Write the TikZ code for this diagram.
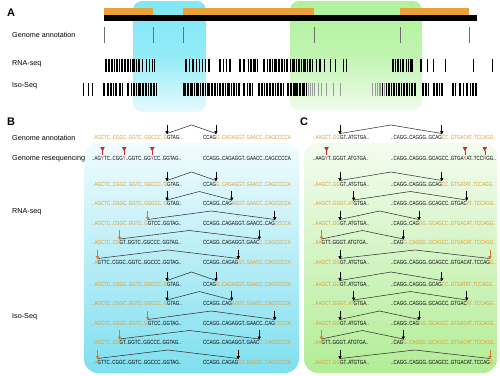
\documentclass[tikz,border=0pt]{standalone}
\usepackage{fontspec}
\setmainfont{Liberation Sans}
\newfontfamily\seqf[FakeStretch=0.75]{Liberation Sans}
\usetikzlibrary{calc,arrows.meta}
\definecolor{orng}{HTML}{E9A13A}
\definecolor{extxt}{HTML}{E39B2C}
\definecolor{redc}{HTML}{C4302B}
\definecolor{oarrc}{HTML}{E27428}
\definecolor{cyA}{HTML}{80E8F6}
\definecolor{cyAb}{HTML}{E6FAFD}
\definecolor{grA}{HTML}{B0F29C}
\definecolor{grAb}{HTML}{F0FCEC}
\definecolor{cyT}{HTML}{F2FCFE}
\definecolor{cyB}{HTML}{7EDFEF}
\definecolor{grT}{HTML}{F4FCF0}
\definecolor{grB}{HTML}{B2ED96}
\definecolor{tickc}{HTML}{6E6E6E}
\definecolor{lgray}{HTML}{9A9A9A}

\newcommand{\jrow}[8]{%
  \node[seq] (#1a) at (\xL,#2) {\color{extxt}#3};
  \node[seq] (#1b) at (#1a.base east) {#4};
  \node[seq] (#1c) at (\xR,#2) {#5};
  \node[seq] (#1d) at (#1c.base east) {\color{extxt}#6};
  \draw[conn] ([yshift=5.5pt]#1a.base east) -- ($([yshift=14pt]#1a.base east)!0.5!([yshift=14pt]#1c.base east)$) -- ([yshift=5.5pt]#1c.base east);
  \draw[#7] ([yshift=14.5pt]#1a.base east) -- ([yshift=4.5pt]#1a.base east);
  \draw[#8] ([yshift=14.5pt]#1c.base east) -- ([yshift=4.5pt]#1c.base east);
}

\begin{document}
\begin{tikzpicture}[x=1pt,y=-1pt,
  seq/.style={inner sep=0pt,outer sep=0pt,anchor=base west,font=\fontsize{6}{6.5}\seqf},
  lab/.style={inner sep=0pt,anchor=base west,font=\fontsize{7.2}{8}\selectfont},
  plab/.style={inner sep=0pt,anchor=base west,font=\fontsize{11}{12}\selectfont\bfseries},
  conn/.style={draw=black!80,line width=0.55pt},
  karr/.style={draw=black,line width=0.75pt,-{Triangle[length=3.5pt,width=3.2pt]}},
  oarr/.style={draw=oarrc,line width=0.75pt,-{Triangle[length=3.5pt,width=3.2pt]}},
  anntick/.style={draw=tickc,line width=0.8pt},
]
\useasboundingbox (0,0) rectangle (500,375);
\fill[white] (0,0) rectangle (500,375);

% ---------- Panel A ----------
\shade[top color=cyA,bottom color=cyAb,middle color=cyA!85,rounded corners=9pt] (133,1) rectangle (206,112);
\shade[top color=grA,bottom color=grAb,middle color=grA!80,rounded corners=9pt] (290,1) rectangle (422,110);

\fill[orng] (104,7.5) rectangle (153,15);
\fill[orng] (183,7.5) rectangle (314,15);
\fill[orng] (400,7.5) rectangle (469,15);
\fill[black] (104,15) rectangle (477,20.5);

\node[plab] (pA) at (7,16) {A};
\node[lab] (lA1) at (12,37) {Genome annotation};
\node[lab] (lA2) at (12,65) {RNA-seq};
\node[lab] (lA3) at (12,87) {Iso-Seq};

\foreach \x in {104,153,183,314,400,469} \draw[anntick] (\x,27) -- (\x,43);

\foreach \p/\w in {105/2,108/1.5,110.5/2,113.5/1,115.5/2.5,119/1,121/2,124/1.5,126.5/2,129.5/1,131.5/3,135.5/1.5,138/1.5,141.5/1,145.5/1.2,149/1,152/1,154/1,
185/1.5,188.5/1.5,192/1.5,195.5/1.5,199/1,202/1.2,204.5/1,208/1.5,
219/1.5,222.5/1.2,225.5/1.2,229/1.5,
239/1.5,243/1.5,248/1,250/2,253/3,256.5/1.5,
263/2,266.5/1.5,269/2,272/1,274/2.5,278/1.5,280.5/2,284/1,286/2,289.5/1.5,292/2.5,296/1,298/2,301/1,303/2.5,306.5/1,308.5/2,312/1,
316/1,319/1.5,324/1,330/1,335/1,343/1,346/1.2,
392/1.5,395/1,397/1.5,400/1,402/2,405.5/1.5,408/1,410/2.5,
420/1.5,427/1,433/1,445/1,473/1,492/1}
  \fill[black] (\p,59) rectangle ++(\w,13);

\foreach \p/\w in {83/1,88/1,92/1.2,103/1.5,107/1.5,110/2,113/1,115/2,119/1.5,122/1,127/2,130.5/1.5,133/2,136/1,138/2.5,142/1.5,144.5/2,148/1,150/1.5,153/2,156/1,
183/3,187/2,190/2.5,193.5/1,195.5/3,199.5/1.5,202/2,205/1,207/3,211/1.5,213.5/2,216.5/1,218.5/2.5,222/2,225/1,227/2.5,230.5/1.5,233/2,236/1,238/2,
243/2,246.5/1,249/1.5,251.5/1.5,
258/2,261/1.5,263.5/1,266/2,269/1.5,271.5/2.5,275/1,277/2,280/1.5,282.5/1,
287/2,290/1.5,292.5/2,295/3,299/2,302/3,305.5/1.5,
382/1,386/1,388/1.5,391/1,393/1.5,395.5/1,397.5/2,401/1,403/2,406/1.5,409/1,411/2,414/1.5,
422/2,425/1.5,428/1,433/2,436/1.5,438.5/1,441/2,
452/1.5,455/1,459/2,462.5/1.5,466/2,469.5/1,472/1.5,475/1.5}
  \fill[black] (\p,83) rectangle ++(\w,13);
\foreach \p in {308,310,312,314,318,321,326,333,340,372,374.5,376.5,378.5,380,384}
  \fill[lgray] (\p,83) rectangle ++(0.7,13);

% ---------- Panels B and C backgrounds ----------
\shade[top color=cyT,bottom color=cyB,rounded corners=14pt] (84,143) rectangle (299,373);
\shade[top color=grT,bottom color=grB,rounded corners=14pt] (304,143) rectangle (497,373);

\node[plab] (pB) at (7,125) {B};
\node[plab] (pC) at (300,125) {C};

\node[lab] (lB1) at (12,140) {Genome annotation};
\node[lab] (lB2) at (12,160) {Genome resequencing};
\node[lab] (lB3) at (12,213) {RNA-seq};
\node[lab] (lB4) at (12,318) {Iso-Seq};

% ---------- Panel B ----------
\def\xL{92}\def\xR{203}
\jrow{ba}{139}{..AGCTC..CGGC..GGTC..GGCCC..G}{GTAG..}{CCAG}{G..CAGAGGT..GAACC..CAGCCCCA}{karr}{karr}

\node[seq] (bs1) at (92,160) {..AG};
\node[seq,text=redc] (bv1) at (bs1.base east) {Y};
\node[seq] (bs2) at (bv1.base east) {TC..CGG};
\node[seq,text=redc] (bv2) at (bs2.base east) {Y};
\node[seq] (bs3) at (bv2.base east) {..GGTC..GG};
\node[seq,text=redc] (bv3) at (bs3.base east) {Y};
\node[seq] (bs4) at (bv3.base east) {CC..GGTAG..};
\node[seq] (bs5) at (203,160) {CCAGG..CAGAGGT..GAACC..CAGCCCCA};

\jrow{br1}{186}{..AGCTC..CGGC..GGTC..GGCCC..G}{GTAG..}{CCAG}{G..CAGAGGT..GAACC..CAGCCCCA}{karr}{karr}
\jrow{br2}{205.5}{..AGCTC..CGGC..GGTC..GGCCC..G}{GTAG..}{CCAGG..CAG}{AGGT..GAACC..CAGCCCCA}{karr}{karr}
\jrow{br3}{225}{..AGCTC..CGGC..GGTC..G}{GTCC..GGTAG..}{CCAGG..CAGAGGT..GAACC..CAG}{CCCCA}{oarr}{karr}
\jrow{br4}{244.5}{..AGCTC..CG}{GT..GGTC..GGCCC..GGTAG..}{CCAGG..CAGAGGT..GAAC}{C..CAGCCCCA}{oarr}{karr}
\jrow{br5}{264}{..A}{GTTC..CGGC..GGTC..GGCCC..GGTAG..}{CCAGG..CAGAG}{GT..GAACC..CAGCCCCA}{oarr}{karr}

\jrow{bi1}{286}{..AGCTC..CGGC..GGTC..GGCCC..G}{GTAG..}{CCAG}{G..CAGAGGT..GAACC..CAGCCCCA}{karr}{karr}
\jrow{bi2}{305.5}{..AGCTC..CGGC..GGTC..GGCCC..G}{GTAG..}{CCAGG..CAG}{AGGT..GAACC..CAGCCCCA}{karr}{karr}
\jrow{bi3}{325}{..AGCTC..CGGC..GGTC..G}{GTCC..GGTAG..}{CCAGG..CAGAGGT..GAACC..CAG}{CCCCA}{oarr}{karr}
\jrow{bi4}{344.5}{..AGCTC..CG}{GT..GGTC..GGCCC..GGTAG..}{CCAGG..CAGAGGT..GAAC}{C..CAGCCCCA}{oarr}{karr}
\jrow{bi5}{364}{..A}{GTTC..CGGC..GGTC..GGCCC..GGTAG..}{CCAGG..CAGAG}{GT..GAACC..CAGCCCCA}{oarr}{karr}

% ---------- Panel C ----------
\def\xL{313}\def\xR{391}
\jrow{ca}{139}{..AAGCT..GG}{GT..ATGTGA..}{..CAGG..CAGGG..GCAG}{CC..GTGACAT..TCCAGG..}{karr}{karr}

\node[seq] (cs1) at (313,160) {..AAG};
\node[seq,text=redc] (cv1) at (cs1.base east) {Y};
\node[seq] (cs2) at (cv1.base east) {T..GGGT..ATGTGA..};
\node[seq] (cs3) at (391,160) {..CAGG..CAGGG..GCAGCC..GTGA};
\node[seq,text=redc] (cv2) at (cs3.base east) {Y};
\node[seq] (cs4) at (cv2.base east) {AT..TCC};
\node[seq,text=redc] (cv3) at (cs4.base east) {R};
\node[seq] (cs5) at (cv3.base east) {GG..};

\jrow{cr1}{186}{..AAGCT..GG}{GT..ATGTGA..}{..CAGG..CAGGG..GCAG}{CC..GTGATAT..TCCAGG..}{karr}{karr}
\jrow{cr2}{205.5}{..AAGCT..GGGT..AT}{GTGA..}{..CAGG..CAGGG..GCAGCC..GTGAC}{AT..TCCAGG..}{karr}{karr}
\jrow{cr3}{225}{..AAGCT..GG}{GT..ATGTGA..}{..CAGG..CAG}{GG..GCAGCC..GTGACAT..TCCAGG..}{karr}{karr}
\jrow{cr4}{244.5}{..AA}{GTT..GGGT..ATGTGA..}{..CAG}{G..CAGGG..GCAGCC..GTGACAT..TCCAGG..}{oarr}{karr}
\jrow{cr5}{264}{..AAGCT..GG}{GT..ATGTGA..}{..CAGG..CAGGG..GCAGCC..GTGACAT..TCCAG}{G..}{karr}{oarr}

\jrow{ci1}{286}{..AAGCT..GG}{GT..ATGTGA..}{..CAGG..CAGGG..GCAG}{CC..GTGATAT..TCCAGG..}{karr}{karr}
\jrow{ci2}{305.5}{..AAGCT..GGGT..AT}{GTGA..}{..CAGG..CAGGG..GCAGCC..GTGAC}{AT..TCCAGG..}{karr}{karr}
\jrow{ci3}{325}{..AAGCT..GG}{GT..ATGTGA..}{..CAGG..CAG}{GG..GCAGCC..GTGACAT..TCCAGG..}{karr}{karr}
\jrow{ci4}{344.5}{..AA}{GTT..GGGT..ATGTGA..}{..CAG}{G..CAGGG..GCAGCC..GTGACAT..TCCAGG..}{oarr}{karr}
\jrow{ci5}{364}{..AAGCT..GG}{GT..ATGTGA..}{..CAGG..CAGGG..GCAGCC..GTGACAT..TCCAG}{G..}{karr}{oarr}

% variant markers
\foreach \v in {bv1,bv2,bv3,cv1,cv2,cv3}{
  \fill[redc] ([xshift=-2.3pt,yshift=13pt]\v.base) -- ([xshift=2.3pt,yshift=13pt]\v.base) -- ([yshift=8.5pt]\v.base) -- cycle;
  \draw[redc,line width=0.5pt] ([yshift=9.5pt]\v.base) -- ([yshift=5.5pt]\v.base);
}
\end{tikzpicture}
\end{document}
